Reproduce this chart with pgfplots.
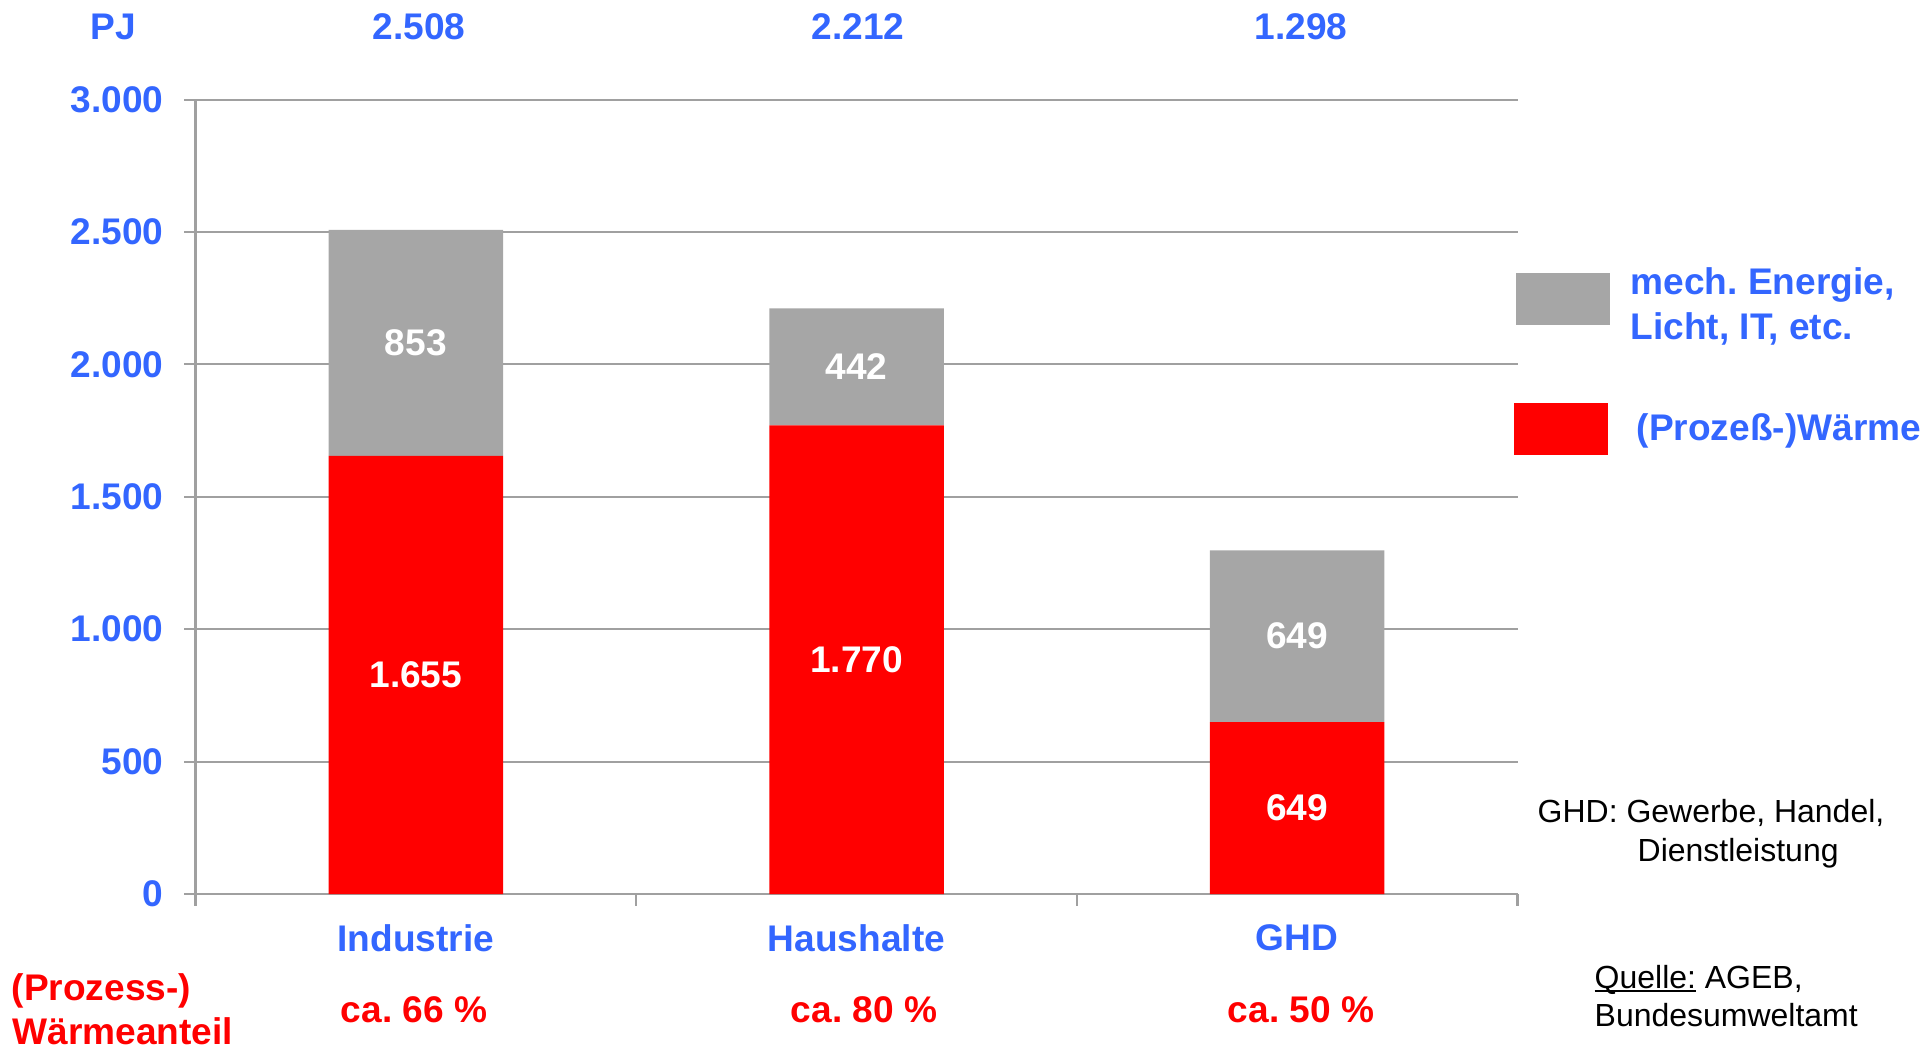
\documentclass[border=0pt]{standalone}
\usepackage{pgfplots}
\pgfplotsset{compat=1.18}
\usepackage{fontspec}
\setmainfont{Liberation Sans}
\frenchspacing
\definecolor{lblue}{RGB}{51,102,255}
\definecolor{lgray}{RGB}{166,166,166}
\definecolor{lred}{RGB}{255,0,0}
\definecolor{gridgray}{RGB}{160,160,160}
\newcommand{\bigb}{\fontsize{10.55}{12.5}\selectfont\bfseries}
\newcommand{\notefont}{\fontsize{9.1}{11}\selectfont}
\begin{document}
\begin{tikzpicture}
\path[use as bounding box] (0mm,0mm) rectangle (192.8mm,-104.8mm);
\begin{axis}[
  at={(19.55mm,-89.4mm)}, anchor=south west,
  scale only axis, width=132.2mm, height=79.44mm,
  ybar stacked, bar width=0.396,
  xmin=-0.5, xmax=2.5, ymin=0, ymax=3000,
  ytick={0,500,1000,1500,2000,2500,3000},
  xtick={-0.5,0.5,1.5,2.5}, xticklabels={,,,},
  extra x ticks={0,1,2},
  extra x tick labels={Industrie,Haushalte,GHD},
  extra x tick style={major tick length=0pt, grid=none,
     xticklabel style={anchor=center, yshift=-4.4mm}},
  axis x line*=bottom, axis y line*=left,
  axis line style={gridgray, line width=0.6pt},
  tick style={gridgray, line width=0.6pt},
  tick align=outside, major tick length=1.15mm,
  ymajorgrids, major grid style={gridgray, line width=0.6pt},
  /pgf/number format/1000 sep={.},
  /pgf/number format/assume math mode=true,
  ticklabel style={font=\bigb, text=lblue},
  yticklabel style={anchor=east, inner sep=0pt, xshift=-1.97mm},
  clip=false,
]
\addplot[fill=lred, draw=none] coordinates {(0,1655) (1,1770) (2,649)};
\addplot[fill=lgray, draw=none] coordinates {(0,853) (1,442) (2,649)};
\coordinate (a1) at (axis cs:0,2081.5);
\coordinate (a2) at (axis cs:0,827.5);
\coordinate (b1) at (axis cs:1,1991);
\coordinate (b2) at (axis cs:1,885);
\coordinate (c1) at (axis cs:2,973.5);
\coordinate (c2) at (axis cs:2,324.5);
\end{axis}
% value labels in bars
\node[font=\bigb, text=white] at (a1) {853};
\node[font=\bigb, text=white] at (a2) {1.655};
\node[font=\bigb, text=white] at (b1) {442};
\node[font=\bigb, text=white] at (b2) {1.770};
\node[font=\bigb, text=white] at (c1) {649};
\node[font=\bigb, text=white] at (c2) {649};
% top labels
\node[font=\bigb, text=lblue, anchor=base] at (11.3mm,-4.0mm) {PJ};
\node[font=\bigb, text=lblue, anchor=base] at (41.9mm,-4.0mm) {2.508};
\node[font=\bigb, text=lblue, anchor=base] at (85.8mm,-4.0mm) {2.212};
\node[font=\bigb, text=lblue, anchor=base] at (130.1mm,-4.0mm) {1.298};
% bottom shares
\node[font=\bigb, text=lred, anchor=base west, inner sep=0pt] at (1.1mm,-100.0mm) {(Prozess-)};
\node[font=\bigb, text=lred, anchor=base west, inner sep=0pt] at (1.2mm,-104.4mm) {Wärmeanteil};
\node[font=\bigb, text=lred, anchor=base] at (41.4mm,-102.25mm) {ca. 66 \%};
\node[font=\bigb, text=lred, anchor=base] at (86.4mm,-102.25mm) {ca. 80 \%};
\node[font=\bigb, text=lred, anchor=base] at (130.1mm,-102.25mm) {ca. 50 \%};
% legend
\fill[lgray] (151.6mm,-27.3mm) rectangle (161.0mm,-32.5mm);
\fill[lred] (151.4mm,-40.3mm) rectangle (160.8mm,-45.5mm);
\node[font=\bigb, text=lblue, anchor=base west, inner sep=0pt] at (163.0mm,-29.5mm) {mech. Energie,};
\node[font=\bigb, text=lblue, anchor=base west, inner sep=0pt] at (163.0mm,-33.9mm) {Licht, IT, etc.};
\node[font=\bigb, text=lblue, anchor=base west, inner sep=0pt] at (163.6mm,-44.0mm) {(Prozeß-)Wärme};
% notes
\node[font=\notefont, anchor=base west, inner sep=0pt] at (153.7mm,-82.2mm) {GHD: Gewerbe, Handel,};
\node[font=\notefont, anchor=base west, inner sep=0pt] at (163.7mm,-86.1mm) {Dienstleistung};
\node[font=\notefont, anchor=base west, inner sep=0pt] at (159.4mm,-98.8mm) {\makebox[0pt][l]{\rule[-0.4mm]{10.1mm}{0.2mm}}Quelle: AGEB,};
\node[font=\notefont, anchor=base west, inner sep=0pt] at (159.4mm,-102.6mm) {Bundesumweltamt};
\end{tikzpicture}
\end{document}
